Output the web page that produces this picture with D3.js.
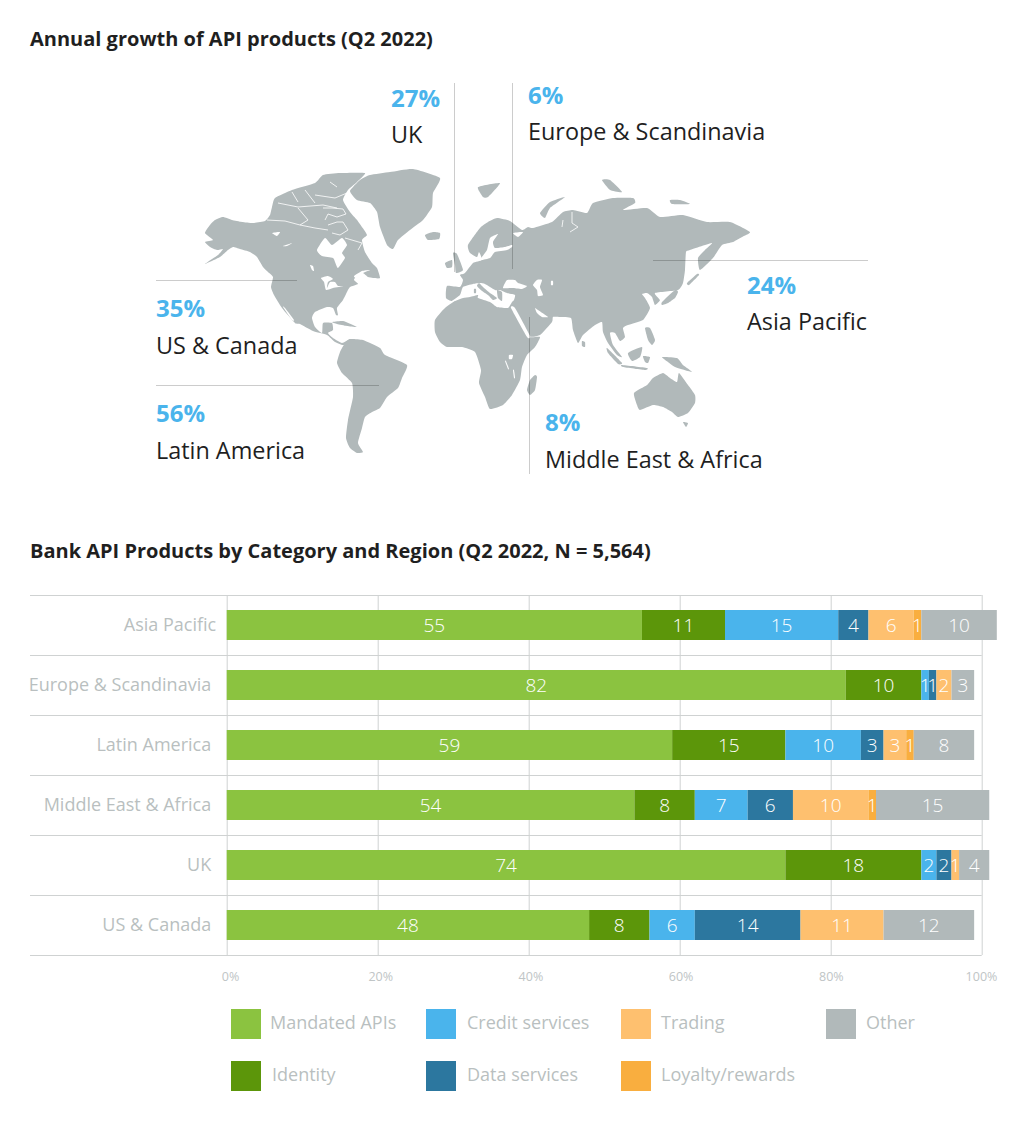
<!DOCTYPE html>
<html>
<head>
<meta charset="utf-8">
<script src="https://cdn.jsdelivr.net/npm/d3@7"></script>
<style>
  html, body { margin: 0; padding: 0; background: #fff; }
  text { font-family: "Open Sans", sans-serif; }
</style>
</head>
<body>
<svg id="chart" width="1024" height="1129"></svg>
<script>
// bar chart data
const regions = ["Asia Pacific", "Europe & Scandinavia", "Latin America", "Middle East & Africa", "UK", "US & Canada"];
const categories = ["Mandated APIs", "Identity", "Credit services", "Data services", "Trading", "Loyalty/rewards", "Other"];
const mandated = [55, 82, 59, 54, 74, 48];
const identity = [11, 10, 15, 8, 18, 8];
const credit = [15, 1, 10, 7, 2, 6];
const dataServices = [4, 1, 3, 6, 2, 14];
const trading = [6, 2, 3, 10, 1, 11];
const loyalty = [1, 0, 1, 1, 0, 0];
const other = [10, 3, 8, 15, 4, 12];
const xTicks = [0, 20, 40, 60, 80, 100];
const colors = ["#8bc340", "#5c960a", "#4ab4ec", "#2c779f", "#fec06f", "#f9ae3f", "#b1b9ba"];

// callouts on the map
const calloutValues = ["27%", "6%", "24%", "35%", "56%", "8%"];
const calloutNames = ["UK", "Europe & Scandinavia", "Asia Pacific", "US & Canada", "Latin America", "Middle East & Africa"];

// map outlines (map units are page pixels)
const northAmerica = [[205,233],[210,225],[215,220],[223,217],[232,220],[242,222],[253,223],[265,221],[270,215],[272,207],[275,198],[292,190],[315,183],[323,175],[340,173],[365,173],[357,182],[348,190],[343,200],[350,212],[357,220],[362,227],[367,235],[362,240],[365,252],[372,263],[377,268],[380,278],[373,278],[368,277],[363,273],[357,275],[354,280],[358,284],[350,287],[347,292],[343,300],[337,308],[338,315],[336,315],[333,308],[327,307],[315,312],[312,318],[315,327],[322,333],[323,323],[332,323],[333,330],[328,333],[333,338],[342,343],[350,339],[352,342],[343,345],[335,342],[327,335],[313,331],[300,324],[295,323],[282,308],[274,295],[271,287],[273,277],[268,272],[263,267],[257,257],[250,252],[240,249],[233,247],[228,250],[220,257],[205,264],[218,255],[223,249],[217,250],[210,247],[205,242],[213,240]];
const greenland = [[350,191],[360,180],[370,175],[390,172],[413,169],[440,178],[433,193],[432,207],[423,220],[410,230],[398,240],[393,249],[387,245],[380,227],[377,212],[370,203],[357,200]];
const iceland = [[425,235],[433,232],[440,233],[439,239],[428,240]];
const cuba = [[332,322],[343,321],[357,327],[347,326],[337,324]];
const southAmerica = [[350,339],[363,340],[380,348],[385,355],[407,365],[402,378],[398,388],[387,397],[380,408],[372,412],[365,417],[362,428],[358,443],[363,452],[357,453],[350,448],[346,438],[348,420],[353,397],[352,383],[342,373],[337,363],[340,352],[345,343]];
const africa = [[435,320],[445,308],[460,298],[478,296],[490,301],[508,306],[513,306],[515,313],[522,327],[530,337],[540,337],[535,347],[527,355],[522,367],[520,380],[512,395],[503,405],[490,409],[485,397],[479,383],[481,370],[475,352],[462,347],[447,347],[440,342],[435,332]];
const madagascar = [[535,375],[537,377],[535,390],[530,395],[527,390],[530,380]];
const eurasia = [[446,298],[447,286],[460,287],[463,280],[460,275],[465,273],[473,263],[482,260],[479,252],[477,257],[470,253],[468,245],[480,228],[488,222],[497,218],[510,221],[522,230],[528,227],[533,228],[552,222],[563,212],[573,210],[587,213],[593,203],[613,198],[633,198],[635,203],[623,210],[647,208],[660,217],[683,215],[707,222],[730,222],[750,232],[742,237],[733,242],[722,245],[713,258],[700,270],[698,258],[705,250],[712,243],[690,250],[686,252],[685,270],[683,283],[678,290],[655,293],[660,300],[655,305],[652,297],[647,293],[642,294],[645,298],[650,308],[643,320],[628,325],[623,328],[625,337],[620,341],[615,333],[610,333],[613,345],[622,357],[617,355],[608,343],[603,332],[602,322],[595,325],[583,335],[578,343],[573,330],[571,318],[560,317],[553,317],[552,322],[540,335],[528,336],[513,313],[511,307],[490,300],[460,298],[452,301]];
const italy = [[479,283],[483,287],[490,293],[497,298],[493,300],[488,295],[482,291],[477,286]];
const balkans = [[497,290],[502,292],[502,301],[498,298]];
const sardinia = [[474,289],[476,289],[476,293],[474,293]];
const britain = [[453,253],[457,254],[463,270],[456,273],[455,265]];
const ireland = [[445,263],[452,260],[452,267],[447,268]];
const svalbard = [[478,187],[500,183],[488,197],[483,197]];
const novayaZemlya = [[540,213],[550,202],[565,197],[550,208],[545,218]];
const severnaya = [[602,180],[610,180],[622,192],[610,190]];
const newSiberian = [[670,200],[680,200],[690,204],[672,204]];
const sakhalin = [[687,283],[697,274],[699,275],[689,285]];
const japan = [[662,302],[675,290],[678,292],[675,298],[668,303],[662,305]];
const philippines = [[645,328],[650,328],[655,340],[652,345],[648,340]];
const borneo = [[628,353],[642,347],[640,357],[632,361]];
const sulawesi = [[643,356],[650,357],[648,363],[645,362]];
const sumatra = [[607,348],[622,363],[618,364],[608,353]];
const java = [[622,365],[647,368],[645,370],[623,367]];
const newGuinea = [[662,357],[677,358],[683,365],[692,372],[675,367],[668,362]];
const sriLanka = [[582,341],[585,342],[585,347],[582,346]];
const australia = [[634,393],[647,385],[653,378],[663,373],[670,378],[677,382],[679,373],[688,385],[695,395],[695,403],[688,413],[678,417],[672,412],[663,407],[653,405],[640,410],[637,405]];
const tasmania = [[683,422],[688,423],[686,427]];

// seas and lakes cut back out of the land
const hudsonBay = [[317,250],[325,238],[332,245],[342,238],[347,245],[342,253],[345,258],[338,268],[335,262],[333,258],[322,256]];
const greatBear = [[272,233],[280,232],[277,236]];
const slaveLake = [[283,246],[292,243],[287,246]];
const winnipeg = [[310,265],[313,266],[314,271],[312,270]];
const greatLakes = [[321,278],[328,276],[333,279],[328,282],[327,288],[330,282],[335,282],[338,286],[344,286],[333,288],[326,290],[324,282]];
const stLawrence = [[354,276],[362,271],[370,270],[363,273],[356,278]];
const bajaSlit = [[283,307],[285,308],[294,320],[292,320]];
const mediterranean = [[452,301],[460,295],[463,287],[473,284],[480,283],[485,284],[495,290],[500,290],[507,293],[515,295],[514,300],[512,302],[508,308],[497,307],[490,302],[478,298],[478,295],[470,297],[463,298],[455,301]];
const baltic = [[487,250],[490,238],[498,234],[493,242],[495,248],[505,247],[512,245],[512,247],[507,250],[495,252],[490,258],[480,260]];
const whiteSea = [[513,233],[523,232],[518,237]];
const blackSea = [[503,288],[507,280],[515,280],[518,283],[527,286],[522,289],[512,288]];
const caspian = [[533,285],[537,280],[542,280],[540,287],[543,295],[538,296],[537,290]];
const aral = [[551,281],[553,281],[553,285],[551,285]];
const redSea = [[511,308],[515,308],[530,336],[527,337]];
const persianGulf = [[535,308],[538,310],[548,317],[542,317],[537,313]];
const lakeVictoria = [[509,355],[513,355],[512,359],[509,359]];
const tanganyika = [[505,361],[506,361],[509,369],[508,369]];
const malawi = [[513,370],[514,370],[515,378],[514,378]];

// thin straits between islands, drawn as white strokes
const mainlandChannel = [[267,220],[285,221],[300,225],[315,228],[328,230]];
const coronation = [[298,208],[308,220],[300,225]];
const parryChannel = [[278,203],[298,207],[323,205],[337,208]];
const jonesSound = [[315,195],[335,198],[347,193]];
const eurekaSound = [[330,182],[337,187]];
const sverdrup = [[305,190],[315,203]];
const mcClure = [[292,192],[298,202]];
const foxeNorth = [[323,208],[332,208],[343,209],[346,214],[337,217],[328,214],[325,220]];
const foxeBasin = [[328,225],[337,222],[343,222],[348,230],[340,235],[332,233]];
const hudsonStrait = [[345,238],[362,243],[358,250]];
const obGulf = [[572,212],[572,223],[578,227],[570,232]];
const pechora = [[563,220],[562,227]];

const land = [northAmerica, greenland, iceland, cuba, southAmerica, africa, madagascar, eurasia, britain, ireland, svalbard, novayaZemlya, severnaya, newSiberian, sakhalin, japan, philippines, borneo, sulawesi, sumatra, java, newGuinea, sriLanka, australia, tasmania];
const water = [hudsonBay, greatBear, slaveLake, winnipeg, greatLakes, stLawrence, bajaSlit, mediterranean, baltic, whiteSea, blackSea, caspian, aral, redSea, persianGulf, lakeVictoria, tanganyika, malawi];
const landOverWater = [italy, balkans, sardinia];
const channels = [mainlandChannel, coronation, parryChannel, jonesSound, eurekaSound, sverdrup, mcClure, foxeNorth, foxeBasin, hudsonStrait, obGulf, pechora];

// leader lines: x1, y1, x2, y2
const leaders = [[454.5,83,454.5,272],[512.5,83,512.5,269],[653,260.5,868,260.5],[156,280.5,297,280.5],[156,385.5,379,385.5],[529.5,317,529.5,474]];
// where each callout starts: x, value baseline, name baseline
const calloutPos = [[391,107,143],[528,104,140],[747,294,330],[156,317,354],[156,422,459],[545,431,468]];

const svg = d3.select("#chart");

svg.append("text").attr("x", 30).attr("y", 46).attr("font-size", 20).attr("font-weight", 700).attr("fill", "#1f1f1f")
  .text("Annual growth of API products (Q2 2022)");
svg.append("text").attr("x", 30).attr("y", 558).attr("font-size", 20).attr("font-weight", 700).attr("fill", "#1f1f1f")
  .text("Bank API Products by Category and Region (Q2 2022, N = 5,564)");

// --- map
let mapX = d3.scaleIdentity(), mapY = d3.scaleIdentity();
// a slight curve takes the sharp corners off the traced outlines
let outline = d3.line().x(d => mapX(d[0])).y(d => mapY(d[1])).curve(d3.curveCardinalClosed.tension(0.5));
let strait = d3.line().x(d => mapX(d[0])).y(d => mapY(d[1]));

svg.append("g").selectAll("path").data(land).join("path").attr("d", outline).attr("fill", "#b1b9ba");
svg.append("g").selectAll("path").data(water).join("path").attr("d", outline).attr("fill", "#fff");
svg.append("g").selectAll("path").data(landOverWater).join("path").attr("d", outline).attr("fill", "#b1b9ba");
svg.append("g").selectAll("path").data(channels).join("path").attr("d", strait)
  .attr("fill", "none").attr("stroke", "#fff").attr("stroke-width", 1).attr("stroke-opacity", 0.8);

svg.append("g").selectAll("line").data(leaders).join("line")
  .attr("x1", d => d[0]).attr("y1", d => d[1]).attr("x2", d => d[2]).attr("y2", d => d[3])
  .attr("stroke", "#000").attr("stroke-opacity", 0.2).attr("stroke-width", 1);

calloutNames.forEach((name, i) => {
  let p = calloutPos[i];
  svg.append("text").attr("x", p[0]).attr("y", p[1]).attr("font-size", 24).attr("font-weight", 700).attr("fill", "#4ab4ec").text(calloutValues[i]);
  svg.append("text").attr("x", p[0]).attr("y", p[2]).attr("font-size", 23.4).attr("fill", "#1f1f1f").text(name);
});

// --- stacked bars
let x = d3.scaleLinear().domain([0, 100]).range([226.7, 981.7]);
let y = d3.scaleBand().domain(regions).range([595, 955]).paddingInner(0.5).paddingOuter(0.25);

// row lines
svg.append("g").selectAll("line").data(d3.range(regions.length + 1)).join("line")
  .attr("x1", 30).attr("x2", 981.7)
  .attr("y1", i => 595.5 + i * y.step()).attr("y2", i => 595.5 + i * y.step())
  .attr("stroke", "#cfd2d2");

// vertical grid + tick labels
let xAxis = svg.append("g").attr("transform", "translate(0,955)")
  .call(d3.axisBottom(x).tickValues(xTicks).tickFormat(d => d + "%").tickSize(-360).tickPadding(17));
xAxis.select(".domain").remove();
xAxis.selectAll(".tick line").attr("stroke", "#cfd2d2");
// labels in the original sit slightly off the grid, drifting left along the axis
xAxis.selectAll(".tick text").attr("font-size", 12.5).attr("fill", "#c0c5c6").attr("font-family", "Open Sans")
  .attr("dx", d => 3.3 - d * 0.04);

let yAxis = svg.append("g").attr("transform", "translate(226.7,0)")
  .call(d3.axisLeft(y).tickSize(0).tickPadding(15.5));
yAxis.select(".domain").remove();
yAxis.selectAll(".tick text").attr("font-size", 18).attr("fill", "#b9bfc0").attr("font-family", "Open Sans")
  .attr("dx", d => d === "Asia Pacific" ? 5 : 0);

const seriesValues = [mandated, identity, credit, dataServices, trading, loyalty, other];
let rows = regions.map((r, i) => {
  let row = { region: r };
  categories.forEach((c, j) => { row[c] = seriesValues[j][i]; });
  return row;
});
let stacked = d3.stack().keys(categories)(rows);

let series = svg.append("g").selectAll("g").data(stacked).join("g").attr("fill", (d, i) => colors[i]);
series.selectAll("rect").data(d => d).join("rect")
  .attr("x", d => x(d[0])).attr("width", d => x(d[1]) - x(d[0]))
  .attr("y", d => y(d.data.region)).attr("height", y.bandwidth());
series.selectAll("text").data(d => d.filter(v => v[1] > v[0])).join("text")
  .attr("x", d => x((d[0] + d[1]) / 2)).attr("y", d => y(d.data.region) + y.bandwidth() / 2 + 7)
  .attr("text-anchor", "middle").attr("font-size", 19).attr("font-weight", 300).attr("fill", "#fff")
  .text(d => d[1] - d[0]);

// --- legend
let legendX = [231, 426, 621, 826];
let legendY = [1009, 1061];
// column, row, text offset of each category
let legendSlots = [[0,0,39],[0,1,41],[1,0,41],[1,1,41],[2,0,40],[2,1,40],[3,0,40]];
let legend = svg.append("g").selectAll("g").data(categories).join("g")
  .attr("transform", (d, i) => `translate(${legendX[legendSlots[i][0]]},${legendY[legendSlots[i][1]]})`);
legend.append("rect").attr("width", 30).attr("height", 30).attr("fill", (d, i) => colors[i]);
legend.append("text").attr("x", (d, i) => legendSlots[i][2]).attr("y", 20)
  .attr("font-size", 18).attr("fill", "#b9bfc0").text(d => d);
</script>
</body>
</html>
